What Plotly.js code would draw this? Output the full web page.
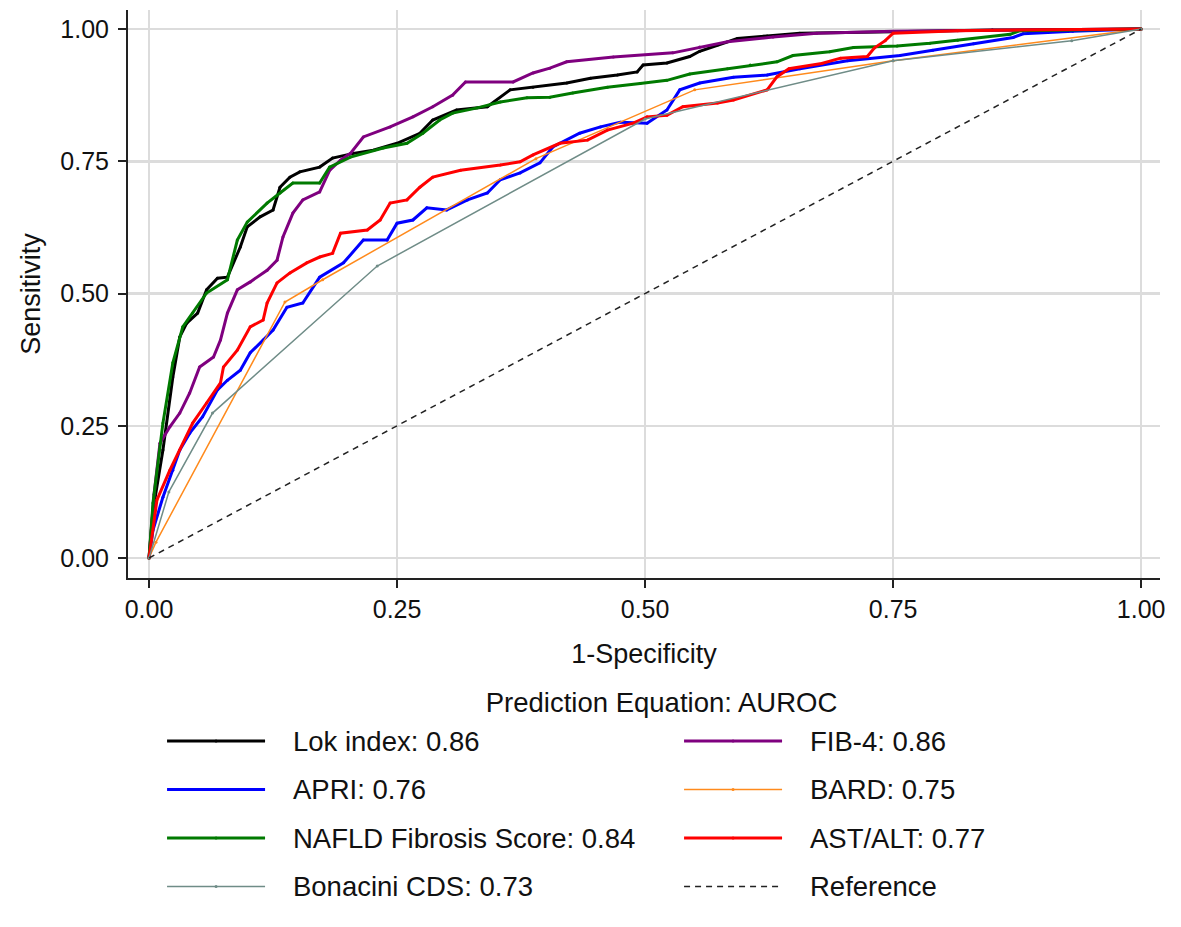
<!DOCTYPE html>
<html>
<head>
<meta charset="utf-8">
<script src="https://cdn.plot.ly/plotly-3.0.1.min.js"></script>
<style>html,body{margin:0;padding:0;background:#fff;}</style>
</head>
<body>
<div id="chart" style="width:1181px;height:927px;"></div>
<script>
// ---- Data ----
const lokX = [0, 0.004, 0.014, 0.024, 0.031, 0.038, 0.049, 0.058, 0.069, 0.079, 0.092, 0.099, 0.112, 0.125, 0.132, 0.142, 0.152, 0.172, 0.185, 0.206, 0.226, 0.25, 0.273, 0.286, 0.31, 0.341, 0.364, 0.387, 0.421, 0.445, 0.472, 0.492, 0.498, 0.522, 0.545, 0.555, 0.573, 0.593, 0.623, 0.656, 0.75, 0.85, 1];
const lokY = [0, 0.09, 0.204, 0.342, 0.418, 0.444, 0.463, 0.507, 0.529, 0.531, 0.588, 0.626, 0.645, 0.658, 0.701, 0.720, 0.730, 0.739, 0.756, 0.765, 0.771, 0.784, 0.803, 0.828, 0.847, 0.853, 0.885, 0.890, 0.898, 0.907, 0.913, 0.919, 0.932, 0.936, 0.948, 0.958, 0.970, 0.982, 0.987, 0.992, 0.995, 0.998, 1];

const fibX = [0, 0.005, 0.011, 0.021, 0.031, 0.041, 0.051, 0.065, 0.072, 0.079, 0.089, 0.102, 0.119, 0.129, 0.135, 0.145, 0.155, 0.172, 0.182, 0.193, 0.203, 0.216, 0.243, 0.266, 0.286, 0.306, 0.319, 0.367, 0.387, 0.404, 0.421, 0.468, 0.528, 0.555, 0.583, 0.629, 0.673, 0.75, 0.85, 1];
const fibY = [0, 0.12, 0.217, 0.248, 0.274, 0.312, 0.361, 0.380, 0.412, 0.463, 0.507, 0.522, 0.544, 0.563, 0.607, 0.652, 0.677, 0.692, 0.733, 0.752, 0.765, 0.796, 0.815, 0.834, 0.853, 0.875, 0.900, 0.900, 0.917, 0.926, 0.938, 0.947, 0.955, 0.966, 0.976, 0.985, 0.992, 0.996, 0.998, 1];

const apriX = [0, 0.004, 0.014, 0.024, 0.031, 0.041, 0.054, 0.069, 0.079, 0.092, 0.102, 0.115, 0.125, 0.139, 0.155, 0.172, 0.196, 0.216, 0.24, 0.25, 0.266, 0.28, 0.3, 0.321, 0.341, 0.354, 0.374, 0.394, 0.407, 0.434, 0.455, 0.475, 0.502, 0.522, 0.535, 0.555, 0.589, 0.623, 0.656, 0.704, 0.757, 0.79, 0.831, 0.871, 0.881, 0.931, 1];
const apriY = [0, 0.053, 0.115, 0.166, 0.204, 0.236, 0.267, 0.318, 0.336, 0.355, 0.388, 0.412, 0.431, 0.474, 0.482, 0.531, 0.558, 0.601, 0.601, 0.633, 0.639, 0.662, 0.658, 0.677, 0.690, 0.715, 0.728, 0.747, 0.777, 0.803, 0.815, 0.824, 0.822, 0.847, 0.885, 0.898, 0.909, 0.913, 0.925, 0.940, 0.950, 0.960, 0.972, 0.984, 0.991, 0.996, 1];

const bardX = [0, 0.007, 0.137, 0.175, 0.39, 0.55, 0.75, 1];
const bardY = [0, 0.03, 0.484, 0.526, 0.755, 0.885, 0.940, 1];

const nfsX = [0, 0.004, 0.014, 0.024, 0.034, 0.044, 0.058, 0.079, 0.089, 0.099, 0.119, 0.132, 0.145, 0.172, 0.182, 0.203, 0.236, 0.26, 0.276, 0.293, 0.306, 0.331, 0.354, 0.381, 0.404, 0.427, 0.462, 0.495, 0.522, 0.545, 0.583, 0.606, 0.633, 0.649, 0.686, 0.71, 0.754, 0.787, 0.815, 0.868, 0.878, 1];
const nfsY = [0, 0.104, 0.255, 0.369, 0.437, 0.463, 0.501, 0.526, 0.601, 0.635, 0.671, 0.690, 0.709, 0.709, 0.739, 0.758, 0.775, 0.784, 0.803, 0.828, 0.841, 0.851, 0.862, 0.870, 0.871, 0.879, 0.890, 0.897, 0.903, 0.915, 0.925, 0.932, 0.938, 0.950, 0.957, 0.965, 0.968, 0.973, 0.979, 0.990, 0.997, 1];

const astX = [0, 0.008, 0.021, 0.031, 0.044, 0.058, 0.072, 0.075, 0.089, 0.102, 0.115, 0.119, 0.129, 0.142, 0.159, 0.172, 0.185, 0.193, 0.22, 0.233, 0.243, 0.26, 0.273, 0.286, 0.314, 0.354, 0.374, 0.387, 0.414, 0.442, 0.462, 0.488, 0.502, 0.522, 0.538, 0.573, 0.589, 0.623, 0.633, 0.645, 0.678, 0.697, 0.724, 0.731, 0.742, 0.75, 0.815, 1];
const astY = [0, 0.11, 0.166, 0.204, 0.255, 0.293, 0.331, 0.361, 0.393, 0.437, 0.450, 0.482, 0.520, 0.539, 0.558, 0.569, 0.576, 0.614, 0.620, 0.639, 0.671, 0.677, 0.701, 0.720, 0.733, 0.743, 0.749, 0.762, 0.784, 0.790, 0.809, 0.822, 0.834, 0.837, 0.853, 0.860, 0.866, 0.885, 0.910, 0.925, 0.935, 0.945, 0.948, 0.964, 0.978, 0.992, 0.997, 1];

const cdsX = [0, 0.02, 0.064, 0.23, 0.5, 0.75, 0.93, 1];
const cdsY = [0, 0.125, 0.274, 0.552, 0.83, 0.940, 0.978, 1];

const refX = [0, 1];
const refY = [0, 1];

const seriesNames = ["Lok index: 0.86", "FIB-4: 0.86", "APRI: 0.76", "BARD: 0.75",
  "NAFLD Fibrosis Score: 0.84", "AST/ALT: 0.77", "Bonacini CDS: 0.73", "Reference"];
const tickVals = [0, 0.25, 0.5, 0.75, 1];
const tickText = ["0.00", "0.25", "0.50", "0.75", "1.00"];

// ---- Styles ----
const FONT = "Liberation Sans, Arial, sans-serif";
function lbl(s) { return '<span style="font-size:27.5px;baseline-shift:4px">&nbsp;&nbsp;&nbsp;' + s + '</span>'; }
function roc(x, y, name, color, width, colW, msize) {
  return {
    type: 'scatter', mode: 'lines+markers', x: x, y: y, name: lbl(name),
    line: { color: color, width: width },
    marker: { color: color, size: msize },
    legendwidth: colW, hoverinfo: 'skip'
  };
}
const C1 = 404, C2 = 369;
const traces = [
  roc(lokX, lokY, seriesNames[0], '#000000', 3, C1, 3),
  roc(fibX, fibY, seriesNames[1], '#7f007f', 3, C2, 3),
  roc(apriX, apriY, seriesNames[2], '#0000ff', 3, C1, 3),
  roc(bardX, bardY, seriesNames[3], '#ff8a1c', 1.5, C2, 3),
  roc(nfsX, nfsY, seriesNames[4], '#007a00', 3, C1, 3),
  roc(astX, astY, seriesNames[5], '#ff0000', 3, C2, 3),
  roc(cdsX, cdsY, seriesNames[6], '#6f8c87', 1.5, C1, 3),
  { type: 'scatter', mode: 'lines', x: refX, y: refY, name: lbl(seriesNames[7]),
    line: { color: '#222222', width: 1.5, dash: '6px,5px' }, legendwidth: C2, hoverinfo: 'skip' }
];

const axisCommon = {
  tickvals: tickVals, ticktext: tickText,
  showline: true, linecolor: '#222', linewidth: 2,
  ticks: 'outside', ticklen: 8, tickwidth: 2, tickcolor: '#222',
  showgrid: true, gridcolor: '#dcdcdc', gridwidth: 2.5,
  zeroline: false, tickfont: { family: FONT, size: 25, color: '#111' },
  fixedrange: true
};

const layout = {
  width: 1181, height: 927,
  margin: { l: 128, r: 21, t: 10, b: 349 },
  paper_bgcolor: '#ffffff', plot_bgcolor: '#ffffff',
  font: { family: FONT, color: '#111' },
  xaxis: Object.assign({}, axisCommon, {
    range: [-0.0212, 1.019],
    ticklabelstandoff: 0,
    title: { text: '1-Specificity', font: { family: FONT, size: 27, color: '#111' }, standoff: 22 }
  }),
  yaxis: Object.assign({}, axisCommon, {
    range: [-0.0378, 1.036],
    ticklabelstandoff: 4,
    title: { text: 'Sensitivity', font: { family: FONT, size: 27, color: '#111' }, standoff: 12 }
  }),
  showlegend: true,
  legend: {
    orientation: 'h', x: 0.033, xanchor: 'left', y: -0.1725, yanchor: 'top',
    itemwidth: 98,
    font: { family: FONT, size: 35, color: '#111' },
    title: { text: 'Prediction Equation: AUROC', side: 'top center', font: { family: FONT, size: 27.5, color: '#111' } },
    bgcolor: 'rgba(0,0,0,0)', borderwidth: 0, itemclick: false, itemdoubleclick: false
  }
};

Plotly.newPlot('chart', traces, layout, { staticPlot: true, displayModeBar: false });
</script>
</body>
</html>
